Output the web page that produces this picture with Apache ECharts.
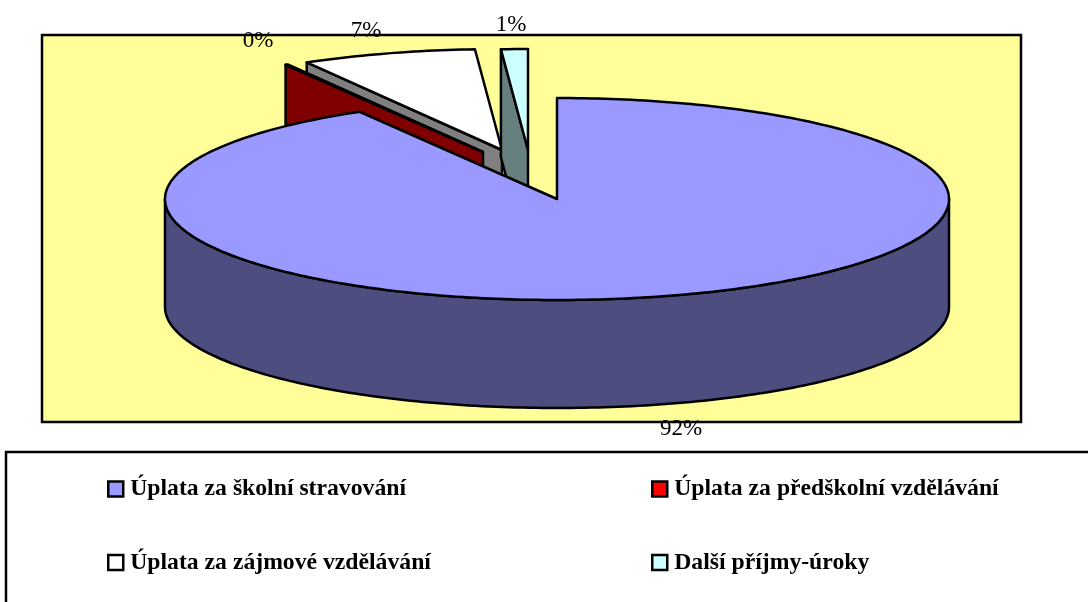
<!DOCTYPE html>
<html><head><meta charset="utf-8">
<style>html,body{margin:0;padding:0;background:#fff}#c{width:1088px;height:602px}</style>
<script src="https://cdn.jsdelivr.net/npm/echarts@6/dist/echarts.min.js"></script>
</head><body><div id="c"></div>
<script>
// Data
var categories = ['Úplata za školní stravování','Úplata za předškolní vzdělávání','Úplata za zájmové vzdělávání','Další příjmy-úroky'];
var shares = [91.6, 0.1, 7.2, 1.1];

// Style and layout
var topColors  = ['#9999FF','#FF0000','#FFFFFF','#CCFFFF'];
var wallColors = ['#4D4D80','#800000','#808080','#668080'];
var C = {x:557, y:199, rx:392, ry:101, depth:108};
var explode = [[0,0],[-74,-47],[-55,-49],[-29,-49]];
var labelAt = [[681,429],[258,41],[366,31],[511,25]];
var drawOrder = [6,4,3,5]; // main in front, cyan over white, red over white
var total = shares.reduce(function(a,b){return a+b;},0);

function pt(cx,cy,deg,dy){
  var t = deg*Math.PI/180;
  return [cx + C.rx*Math.sin(t), cy - C.ry*Math.cos(t) + (dy||0)];
}
function renderSlice(idx){
  return function(params, api){
    var val = api.value(0);
    var before = 0;
    for (var i=0;i<idx;i++) before += shares[i];
    var a0 = before/total*360, a1 = a0 + val/total*360;
    var cx = C.x+explode[idx][0], cy = C.y+explode[idx][1];
    var kids = [];
    var line = {stroke:'#000', lineWidth:2.5, lineJoin:'round'};
    // radial wall at the start of the slice, visible when it lies in the back-left quadrant
    if (a0 > 270) {
      var o = pt(cx,cy,a0);
      kids.push({type:'polygon', shape:{points:[o,[cx,cy],[cx,cy+C.depth],[o[0],o[1]+C.depth]]},
        style:Object.assign({fill:wallColors[idx]},line)});
    }
    // outer wall on the front half
    var f0 = Math.max(a0,90), f1 = Math.min(a1,270);
    if (f1 > f0) {
      var upper=[], lower=[];
      for (var d=f0; d<=f1+1e-6; d+=1){ upper.push(pt(cx,cy,d)); lower.unshift(pt(cx,cy,d,C.depth)); }
      kids.push({type:'polygon', shape:{points:upper.concat(lower)},
        style:Object.assign({fill:wallColors[idx]},line)});
    }
    // top face
    var pts=[[cx,cy]], steps=Math.max(2,Math.ceil(a1-a0));
    for (var s=0;s<=steps;s++) pts.push(pt(cx,cy,a0+(a1-a0)*s/steps));
    kids.push({type:'polygon', shape:{points:pts}, style:Object.assign({fill:topColors[idx]},line)});
    return {type:'group', children:kids};
  };
}
function renderLabel(params, api){
  var i = params.dataIndex;
  return {type:'text', x:labelAt[i][0], y:labelAt[i][1],
    style:{text:Math.round(api.value(0))+'%', font:'23px "Liberation Serif"', fill:'#000', align:'center', verticalAlign:'middle'}};
}
var series = categories.map(function(name,i){
  return {type:'custom', name:name, coordinateSystem:'none', silent:true, z:drawOrder[i],
    animation:false, itemStyle:{color:topColors[i]}, data:[[shares[i]]], renderItem:renderSlice(i)};
});
series.push({type:'custom', name:'labels', coordinateSystem:'none', silent:true, z:7, animation:false,
  data:shares.map(function(v){return [v];}), renderItem:renderLabel});

function legendCol(names,left){
  return {data:names, orient:'vertical', left:left, top:472, itemWidth:15, itemHeight:15, itemGap:49.5,
    icon:'rect', selectedMode:false,
    itemStyle:{borderColor:'#000',borderWidth:2.5},
    textStyle:{fontFamily:'Liberation Serif',fontWeight:'bold',fontSize:23.7,color:'#000',padding:[0,0,0,2]}};
}
var chart = echarts.init(document.getElementById('c'),null,{renderer:'canvas'});
chart.setOption({
  animation:false,
  backgroundColor:'#fff',
  legend:[legendCol([categories[0],categories[2]],102),legendCol([categories[1],categories[3]],646)],
  graphic:[
    {type:'rect',z:-1,shape:{x:42,y:35,width:979,height:387},style:{fill:'#FFFF99',stroke:'#000',lineWidth:2.5}},
    {type:'rect',z:-1,shape:{x:6,y:452,width:1100,height:160},style:{fill:'#fff',stroke:'#000',lineWidth:2.5}}
  ],
  series:series
});
</script></body></html>
